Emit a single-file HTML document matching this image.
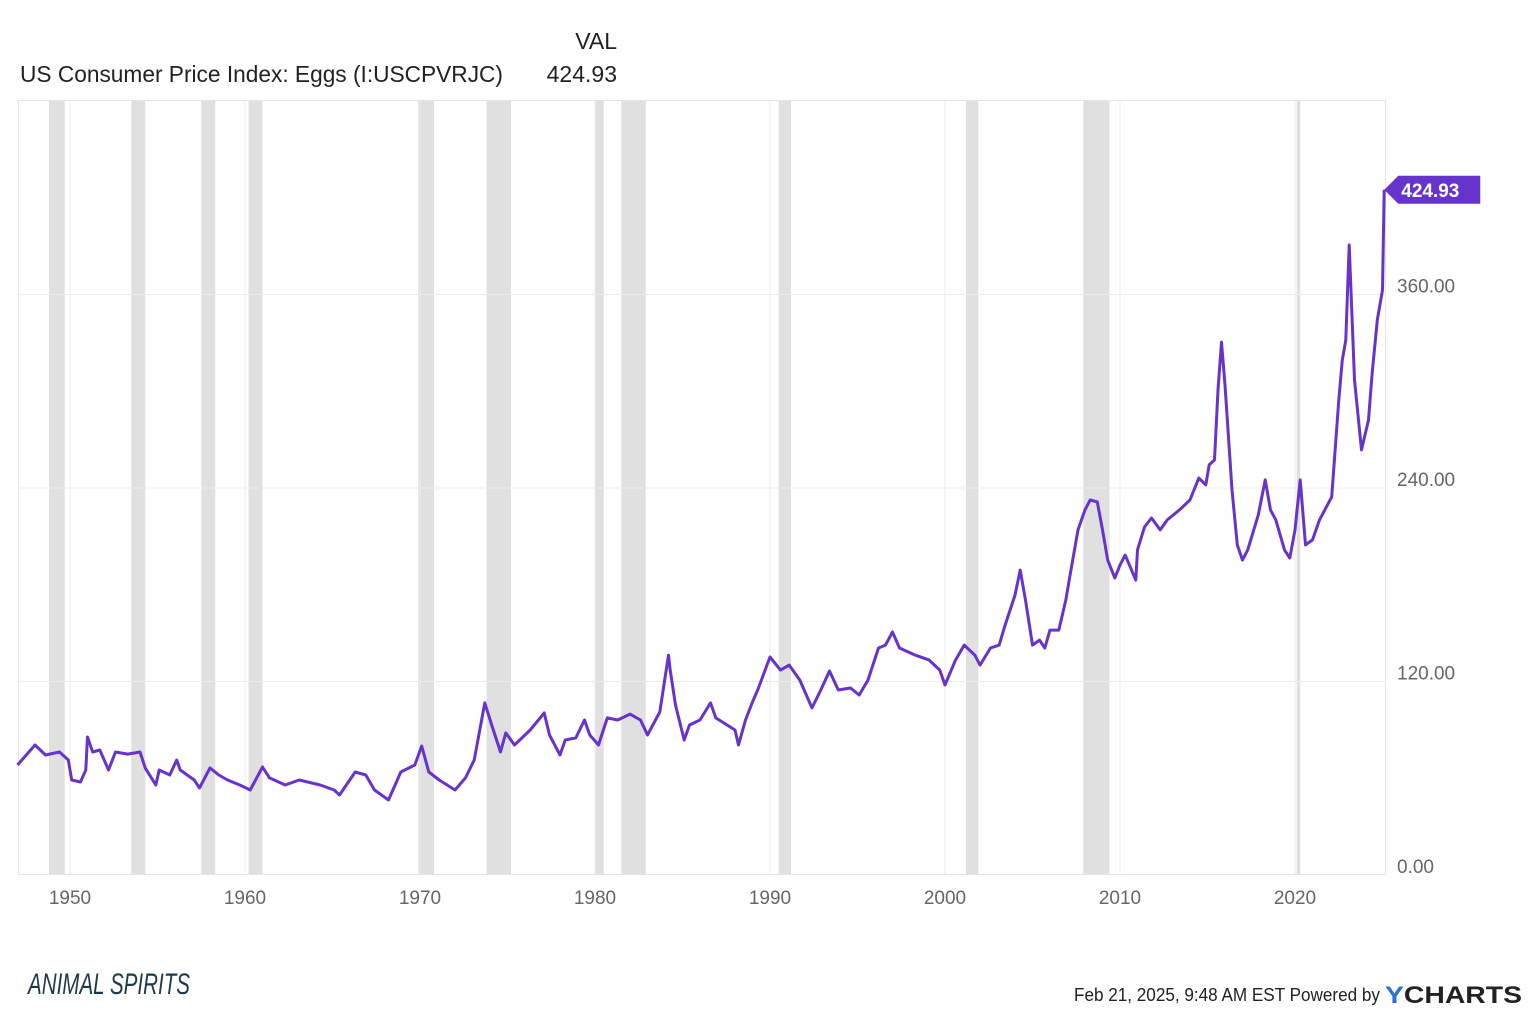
<!DOCTYPE html>
<html><head><meta charset="utf-8"><style>
html,body{margin:0;padding:0;background:#fff;}
svg{display:block;font-family:"Liberation Sans",sans-serif;}
</style></head><body>
<svg id="chart" width="1536" height="1017" viewBox="0 0 1536 1017" xmlns="http://www.w3.org/2000/svg">
<rect width="1536" height="1017" fill="#fff"/>
<text x="617" y="49" font-size="23" text-anchor="end" fill="#222">VAL</text>
<text x="20" y="82" font-size="23" fill="#222" textLength="483" lengthAdjust="spacingAndGlyphs">US Consumer Price Index: Eggs (I:USCPVRJC)</text>
<text x="617" y="82" font-size="23" text-anchor="end" fill="#222">424.93</text>
<g id="rec"></g><g id="grid"></g>
<rect x="18.5" y="100.5" width="1367" height="774" fill="none" stroke="#e4e4e4"/>
<g id="xticks"></g><g id="yticks"></g>
<path id="line" fill="none" stroke="#6633cc" stroke-width="3" stroke-linejoin="round"/>
<g>
<polygon id="tag" fill="#6633cc"/>
<text id="tagtext" font-size="19" font-weight="bold" fill="#fff">424.93</text>
</g>
<text x="28" y="994" font-size="30" font-style="italic" fill="#1c3a4a" textLength="162" lengthAdjust="spacingAndGlyphs">ANIMAL SPIRITS</text>
<text x="1074" y="1001" font-size="18" fill="#222" textLength="306" lengthAdjust="spacingAndGlyphs">Feb 21, 2025, 9:48 AM EST Powered by</text>
<text x="1385" y="1003" font-size="24" font-weight="bold" fill="#222" textLength="137" lengthAdjust="spacingAndGlyphs"><tspan fill="#2c6fd6">Y</tspan>CHARTS</text>
</svg>
<script>
const years=[1947.0,1948.0,1948.6,1949.4,1949.9,1950.1,1950.6,1950.9,1951.0,1951.3,1951.7,1952.2,1952.6,1953.3,1954.0,1954.3,1954.9,1955.1,1955.7,1956.1,1956.3,1957.1,1957.4,1958.0,1958.5,1959.0,1959.7,1960.3,1961.0,1961.4,1962.3,1963.1,1964.3,1965.1,1965.4,1966.3,1966.9,1967.4,1968.2,1968.9,1969.7,1970.1,1970.5,1971.1,1972.0,1972.6,1973.1,1973.7,1974.1,1974.6,1974.9,1975.4,1976.3,1977.1,1977.4,1978.0,1978.3,1978.9,1979.4,1979.7,1980.2,1980.7,1981.3,1982.0,1982.6,1983.0,1983.7,1984.2,1984.3,1984.6,1985.1,1985.4,1986.0,1986.6,1986.9,1988.0,1988.2,1988.6,1989.0,1989.3,1990.0,1990.6,1991.1,1991.7,1992.2,1992.4,1992.9,1993.4,1993.9,1994.6,1995.1,1995.6,1996.2,1996.6,1997.0,1997.4,1998.3,1999.1,1999.7,2000.0,2000.6,2001.1,2001.7,2002.0,2002.6,2003.1,2003.4,2004.0,2004.3,2004.6,2005.0,2005.4,2005.7,2006.0,2006.5,2006.9,2007.1,2007.6,2008.0,2008.3,2008.7,2009.0,2009.3,2009.7,2010.0,2010.3,2010.9,2011.0,2011.4,2011.8,2012.3,2012.7,2013.4,2014.0,2014.5,2014.9,2015.1,2015.4,2015.6,2015.8,2016.0,2016.4,2016.7,2017.0,2017.3,2017.9,2018.3,2018.6,2018.9,2019.4,2019.7,2020.0,2020.3,2020.6,2021.0,2021.4,2021.7,2022.1,2022.5,2022.7,2022.9,2023.1,2023.4,2023.8,2024.2,2024.4,2024.7,2025.0,2025.1];
const values=[68.2,80.6,74.4,76.3,71.3,58.9,57.7,65.1,85.6,76.3,77.5,65.1,76.3,75.0,76.3,66.4,55.8,65.1,62.0,71.3,65.1,58.9,54.0,66.4,62.0,58.9,55.8,52.7,67.0,60.2,55.8,58.9,55.8,52.7,49.6,63.9,62.0,52.7,46.5,63.9,68.2,80.0,63.9,58.9,52.7,60.2,71.3,106.7,93.0,76.3,88.1,80.6,89.9,100.5,86.8,74.4,83.7,85.0,96.1,86.8,80.6,97.4,96.1,99.8,96.1,86.8,101.1,136.4,127.1,105.4,83.7,93.0,96.1,106.7,97.4,89.9,80.6,96.1,107.3,114.7,135.2,127.1,130.2,120.9,108.5,103.6,114.7,126.5,114.7,116.0,111.6,120.9,140.8,142.6,150.7,140.8,136.4,133.3,127.1,117.8,133.3,142.6,136.4,130.2,140.8,142.6,153.8,173.6,189.1,170.5,142.6,145.7,140.8,151.9,151.9,170.5,182.9,214.0,226.4,232.6,231.3,214.0,195.3,184.2,192.2,198.4,182.9,201.6,215.8,221.4,214.0,220.2,226.4,232.6,246.2,241.9,254.3,257.4,300.8,330.5,303.9,238.8,204.7,195.3,201.6,223.3,245.0,226.4,220.2,201.6,196.6,214.0,245.0,204.7,207.8,220.2,226.4,234.4,294.6,319.4,331.8,390.7,307.0,263.6,282.2,310.1,344.2,362.8,424.93];
const recessions=[[1948.8,1949.7],[1953.5,1954.3],[1957.5,1958.3],[1960.2,1961.0],[1969.9,1970.8],[1973.8,1975.2],[1980.0,1980.5],[1981.5,1982.9],[1990.5,1991.2],[2001.2,2001.9],[2007.9,2009.4],[2020.1,2020.3]];
const xTickLabels=[1950,1960,1970,1980,1990,2000,2010,2020];
const yTickLabels=[0,120,240,360];
const NS='http://www.w3.org/2000/svg';
const X=y=>70+(y-1950)*17.5;
const Y=v=>875-v*1.6125;
function mk(tag,attrs,parent){const e=document.createElementNS(NS,tag);for(const k in attrs)e.setAttribute(k,attrs[k]);parent.appendChild(e);return e;}
const rec=document.getElementById('rec'),grid=document.getElementById('grid'),xt=document.getElementById('xticks'),yt=document.getElementById('yticks');
recessions.forEach(r=>{const e=mk('rect',{x:X(r[0]),y:101,width:X(r[1])-X(r[0]),height:774,fill:'#e0e0e0'},rec);

});
xTickLabels.forEach(t=>{const l=mk('line',{x1:X(t),x2:X(t),y1:101,y2:875,stroke:'#ececec','stroke-width':1},grid);


const tx=mk('text',{x:X(t),y:904,'font-size':19,fill:'#666','text-anchor':'middle'},xt);tx.textContent=t;

});
yTickLabels.forEach(v=>{if(v>0){const l=mk('line',{x1:18,x2:1386,y1:Y(v),y2:Y(v),stroke:'#ececec','stroke-width':1},grid);

}
const tx=mk('text',{x:1397,y:Y(v)-2,'font-size':19,fill:'#666'},yt);tx.textContent=v.toFixed(2);

});
document.getElementById('line').setAttribute('d',years.map((y,i)=>(i?'L':'M')+X(y).toFixed(1)+','+Y(values[i]).toFixed(1)).join(''));
const lx=X(years[years.length-1]),ly=Y(values[values.length-1]);
document.getElementById('tag').setAttribute('points',`${lx},${ly} ${lx+14},${ly-14} ${lx+96},${ly-14} ${lx+96},${ly+14} ${lx+14},${ly+14}`);
const tt=document.getElementById('tagtext');tt.setAttribute('x',lx+17);tt.setAttribute('y',ly+7);
</script>
</body></html>
